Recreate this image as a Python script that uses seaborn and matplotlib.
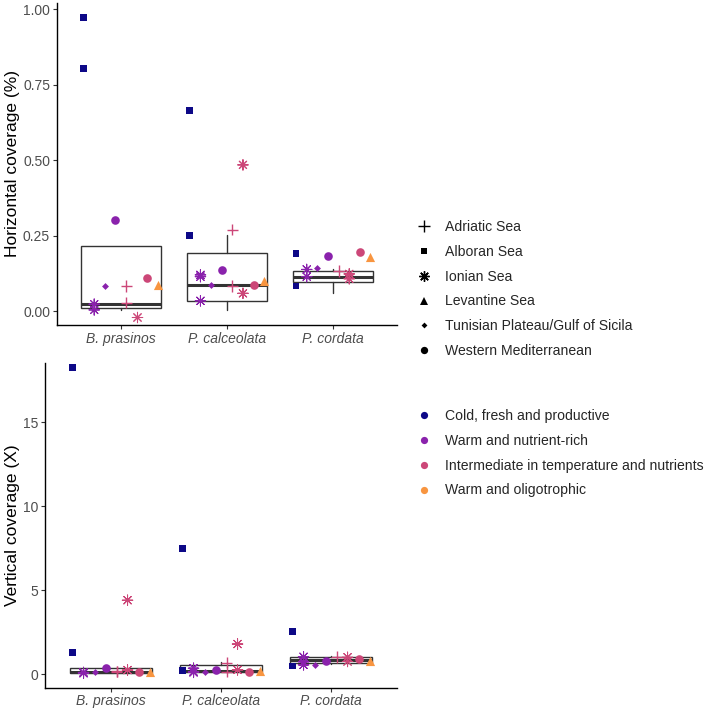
import matplotlib
matplotlib.use("Agg")
import matplotlib.pyplot as plt
from matplotlib.lines import Line2D
import numpy as np
import pandas as pd
import seaborn as sns

# ---- data ----
species_order = ["B. prasinos", "P. calceolata", "P. cordata"]

regions = ["Adriatic Sea", "Alboran Sea", "Ionian Sea", "Levantine Sea",
           "Tunisian Plateau/Gulf of Sicila", "Western Mediterranean"]
water_masses = ["Cold, fresh and productive", "Warm and nutrient-rich",
                "Intermediate in temperature and nutrients", "Warm and oligotrophic"]
wm_colors = ["#0D0887", "#8A22AC", "#CC4778", "#F89540"]

# the 8 water mass / region combinations, in the order they are dodged
group_region = ["Alboran Sea", "Ionian Sea", "Tunisian Plateau/Gulf of Sicila",
                "Western Mediterranean", "Adriatic Sea", "Ionian Sea",
                "Western Mediterranean", "Levantine Sea"]
group_wm = [0, 1, 1, 1, 2, 2, 2, 3]

# horizontal coverage (%)
h_species = ["B. prasinos"] * 11 + ["P. calceolata"] * 13 + ["P. cordata"] * 11
h_group = [0, 0, 1, 1, 2, 3, 4, 4, 5, 6, 7,
           0, 0, 1, 1, 1, 2, 3, 4, 4, 5, 5, 6, 7,
           0, 0, 1, 1, 2, 3, 4, 5, 5, 6, 7]
h_value = [0.973, 0.805, 0.024, 0.005, 0.084, 0.301, 0.084, 0.029, -0.019, 0.110, 0.087,
           0.666, 0.250, 0.121, 0.115, 0.035, 0.087, 0.136, 0.271, 0.084, 0.485, 0.060, 0.087, 0.100,
           0.192, 0.084, 0.139, 0.115, 0.144, 0.182, 0.134, 0.124, 0.108, 0.197, 0.179]

# vertical coverage (X)
v_species = ["B. prasinos"] * 12 + ["P. calceolata"] * 13 + ["P. cordata"] * 12
v_group = [0, 0, 1, 1, 2, 3, 4, 4, 5, 5, 6, 7,
           0, 0, 1, 1, 1, 2, 3, 4, 4, 5, 5, 6, 7,
           0, 0, 1, 1, 1, 2, 3, 4, 5, 5, 6, 7]
v_value = [18.26, 1.29, 0.10, 0.05, 0.10, 0.34, 0.18, 0.15, 4.40, 0.24, 0.14, 0.13,
           7.48, 0.20, 0.35, 0.15, 0.10, 0.10, 0.22, 0.67, 0.15, 1.79, 0.25, 0.12, 0.18,
           2.56, 0.48, 1.03, 0.73, 0.55, 0.54, 0.77, 1.03, 1.00, 0.75, 0.89, 0.77]

# box summaries (whislo, q1, med, q3, whishi) per species
h_box = [[0.004, 0.010, 0.026, 0.217, 0.217],
         [0.004, 0.035, 0.087, 0.195, 0.253],
         [0.062, 0.098, 0.113, 0.133, 0.142]]
v_box = [[0.05, 0.08, 0.15, 0.38, 0.38],
         [0.10, 0.14, 0.20, 0.54, 0.70],
         [0.60, 0.67, 0.83, 1.03, 1.10]]

# ---- styling ----
markers = {"Adriatic Sea": "+", "Alboran Sea": "s", "Ionian Sea": (8, 2, 0),
           "Levantine Sea": "^", "Tunisian Plateau/Gulf of Sicila": "D",
           "Western Mediterranean": "o"}
msize = {"Adriatic Sea": 8, "Alboran Sea": 4.9, "Ionian Sea": 7.5,
         "Levantine Sea": 6.6, "Tunisian Plateau/Gulf of Sicila": 3.5,
         "Western Mediterranean": 6.2}
unfilled = {"Adriatic Sea", "Ionian Sea"}
edge_lw = {"Adriatic Sea": 1.0, "Ionian Sea": 0.75}

sns.set_style("ticks")
plt.rcParams["font.family"] = ["Liberation Sans", "DejaVu Sans"]

group_labels = [f"{water_masses[w]}|{r}" for w, r in zip(group_wm, group_region)]
group_palette = {g: wm_colors[w] for g, w in zip(group_labels, group_wm)}


def make_df(sp, grp, val):
    return pd.DataFrame({
        "species": sp,
        "group": [group_labels[g] for g in grp],
        "region": [group_region[g] for g in grp],
        "value": val,
    })


def draw_panel(ax, df, box, ylim, yticks, fmt, ylabel):
    for reg in regions:
        sub = df[df["region"] == reg]
        if sub.empty:
            continue
        n0 = len(ax.collections)
        sns.stripplot(data=sub, x="species", y="value", hue="group",
                      hue_order=group_labels, order=species_order,
                      palette=group_palette, dodge=True, jitter=False,
                      marker=markers[reg], size=msize[reg], legend=False, ax=ax)
        for c in ax.collections[n0:]:
            if reg in unfilled:
                c.set_edgecolors(c.get_facecolors())
                c.set_linewidths(edge_lw[reg])
            else:
                c.set_linewidths(0)
    stats = [dict(whislo=b[0], q1=b[1], med=b[2], q3=b[3], whishi=b[4])
             for b in box]
    ax.bxp(stats, positions=range(len(stats)), widths=0.75, showfliers=False,
           showcaps=False, patch_artist=True, manage_ticks=False, zorder=1,
           boxprops=dict(facecolor="white", edgecolor="#333333", linewidth=1.0),
           medianprops=dict(color="#333333", linewidth=2.2),
           whiskerprops=dict(color="#333333", linewidth=1.0))
    ax.set_xlim(-0.6, 2.6)
    ax.set_ylim(*ylim)
    ax.set_yticks(yticks)
    ax.set_yticklabels([fmt.format(t) for t in yticks])
    ax.set_xlabel("")
    ax.set_ylabel(ylabel, fontsize=12.5, color="black", labelpad=2)
    ax.set_xticks(range(len(species_order)))
    ax.set_xticklabels(species_order, fontstyle="italic")
    ax.tick_params(axis="both", labelsize=10, labelcolor="#4D4D4D",
                   color="#333333", length=3, width=0.8, pad=2)
    for s in ["top", "right"]:
        ax.spines[s].set_visible(False)
    for s in ["left", "bottom"]:
        ax.spines[s].set_color("black")
        ax.spines[s].set_linewidth(1.0)


fig = plt.figure(figsize=(7.09, 7.09), dpi=100)
ax_top = fig.add_axes([0.0804, 0.5416, 0.4796, 0.4542])
ax_bot = fig.add_axes([0.0635, 0.0303, 0.4965, 0.4577])

draw_panel(ax_top, make_df(h_species, h_group, h_value), h_box,
           (-0.045, 1.021), [0, 0.25, 0.5, 0.75, 1.0], "{:.2f}",
           "Horizontal coverage (%)")
draw_panel(ax_bot, make_df(v_species, v_group, v_value), v_box,
           (-0.80, 18.53), [0, 5, 10, 15], "{:g}",
           "Vertical coverage (X)")

# legends
shape_handles = [Line2D([], [], linestyle="none", marker=markers[r], color="black",
                        markersize=msize[r] * (1.0 if r in unfilled else 0.85),
                        markeredgewidth=1.0 if r in unfilled else 0)
                 for r in regions]
fig.legend(shape_handles, regions, loc="center left", bbox_to_anchor=(0.588, 0.5924),
           frameon=False, borderpad=0, borderaxespad=0, fontsize=10.1,
           handlelength=1.0, handletextpad=1.0, labelspacing=0.78)

color_handles = [Line2D([], [], linestyle="none", marker="o", color=c,
                        markersize=5.2, markeredgewidth=0) for c in wm_colors]
fig.legend(color_handles, water_masses, loc="center left", bbox_to_anchor=(0.588, 0.361),
           frameon=False, borderpad=0, borderaxespad=0, fontsize=10.1,
           handlelength=1.0, handletextpad=1.0, labelspacing=0.78)

fig.savefig("out.png", dpi=100)
